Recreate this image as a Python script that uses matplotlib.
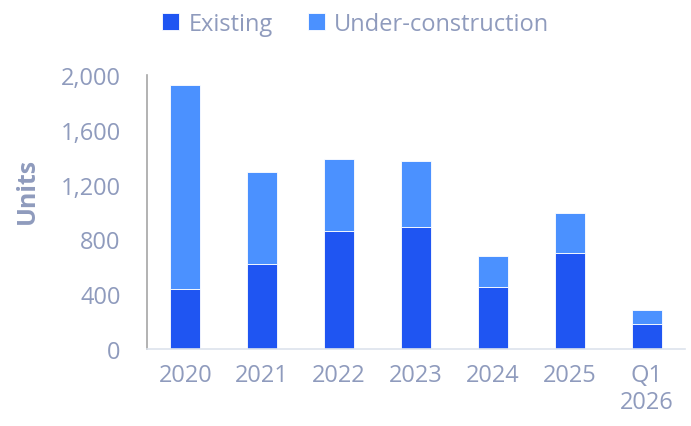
import numpy as np
import matplotlib as mpl
import matplotlib.pyplot as plt
from matplotlib.ticker import FuncFormatter, MultipleLocator

mpl.rc('font', family=['Open Sans', 'DejaVu Sans'], size=17)

categories = ["2020", "2021", "2022", "2023", "2024", "2025", "Q1\n2026"]
existing = [440, 620, 860, 890, 450, 700, 180]
under_construction = [1490, 670, 530, 480, 230, 290, 105]

colExisting = "#1f55f2"
colUnder = "#4b91ff"
textColor = "#8f9bbd"

fig = plt.figure(figsize=(6.91, 4.27), dpi=100)
ax = fig.add_axes([147/691, 1 - 350/427, (685 - 147)/691, (350 - 76)/427])

x = np.arange(len(categories))
ax.bar(x, existing, width=0.39, color=colExisting, edgecolor="white", linewidth=0.6, label="Existing")
ax.bar(x, under_construction, width=0.39, bottom=existing, color=colUnder,
       edgecolor="white", linewidth=0.6, label="Under-construction")

ax.set_xlim(-0.5, len(categories) - 0.5)
ax.set_ylim(0, 2000)
ax.yaxis.set_major_locator(MultipleLocator(400))
ax.yaxis.set_major_formatter(FuncFormatter(lambda v, p: f"{int(v):,}"))
ax.set_xticks(x)
ax.set_xticklabels(categories)

for s in ["top", "right"]:
    ax.spines[s].set_visible(False)
ax.spines["left"].set_color("#a6a6a6")
ax.spines["left"].set_linewidth(1.2)
ax.spines["bottom"].set_color("#dde3ec")
ax.spines["bottom"].set_linewidth(1.2)
ax.tick_params(axis="both", length=0, colors=textColor, labelsize=17)
ax.tick_params(axis="y", pad=19)
ax.tick_params(axis="x", pad=10)

ax.set_ylabel("Units", color=textColor, fontweight="bold", fontsize=18)
ax.yaxis.set_label_coords(-0.199, 0.58)

fig.legend(loc="upper center", bbox_to_anchor=(0.515, 1.02), ncol=2, frameon=False,
           handlelength=0.7, handleheight=0.7, handletextpad=0.4, columnspacing=1.5,
           labelcolor=textColor, fontsize=17)

fig.savefig("out.png", dpi=100)
